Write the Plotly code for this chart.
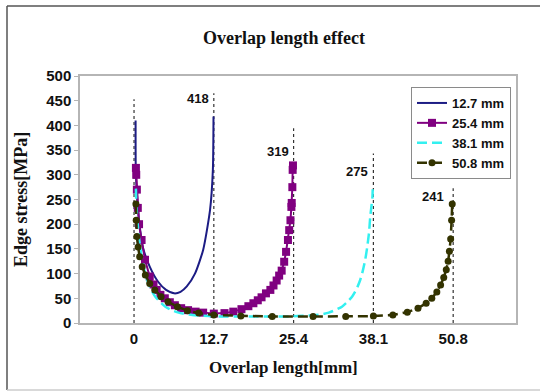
import plotly.graph_objects as go

# ---------------- data ----------------
x_127 = [0.25, 0.28, 0.45, 0.8, 1.4, 2.5, 3.8, 5.1, 6.4, 7.4, 8.4, 9.7, 11.0, 12.1, 12.55, 12.65]
y_127 = [410, 310, 263, 208, 154, 114, 84, 67, 60, 63, 74, 100, 148, 229, 310, 418]

x_254 = [0.3, 0.35, 0.45, 0.6, 0.8, 1.2, 1.75, 2.5, 3.1, 3.6, 4.2, 4.9, 5.7, 6.5, 7.5, 8.6,
         9.8, 11.0, 12.7, 14.4, 15.8, 17.1, 18.2, 19.0, 19.7, 20.3, 21.0, 21.7, 22.2, 22.7,
         23.1, 23.5, 23.9, 24.2, 24.5, 24.7, 24.9, 25.05, 25.1, 25.2, 25.25, 25.3]
y_254 = [314, 300, 270, 233, 200, 168, 128, 94, 78, 67, 57, 50, 42, 36, 30, 26,
         23, 21, 19, 20, 23, 28, 34, 40, 46, 52, 60, 67, 76, 86,
         96, 106, 124, 144, 168, 188, 208, 235, 243, 275, 310, 319]

x_381 = [0.3, 0.35, 0.5, 0.7, 1.0, 1.3, 1.7, 2.1, 2.7, 3.4, 4.2, 5.0, 6.0, 7.1, 8.2, 9.3,
         11.0, 13.0, 15.0, 17.0, 19.0, 21.0, 23.0, 25.0, 27.0, 28.8, 30.0, 31.0, 32.0, 33.1,
         33.9, 34.7, 35.4, 36.0, 36.4, 36.8, 37.1, 37.4, 37.6, 37.75, 37.95, 38.0]
y_381 = [272, 245, 215, 182, 152, 128, 105, 87, 68, 53, 42, 33, 26, 21, 18, 16,
         14.5, 13.5, 13, 13, 13, 13, 13, 13.5, 14.5, 16, 18, 21, 26, 33,
         42, 53, 68, 87, 105, 128, 152, 182, 215, 232, 255, 275]

x_508 = [0.3, 0.35, 0.45, 0.65, 0.9, 1.3, 1.8, 2.5, 3.3, 4.3, 5.4, 6.9, 8.5, 10.3, 12.7,
         17.0, 22.0, 28.5, 33.7, 38.1, 41.2, 43.5, 45.2, 46.5, 47.4, 48.2, 48.8, 49.3,
         49.7, 50.0, 50.2, 50.4, 50.55, 50.65]
y_508 = [241, 208, 175, 154, 134, 114, 97, 80, 67, 53, 43, 33, 25, 20, 16,
         14, 13, 13, 13, 14, 16, 22, 30, 40, 50, 63, 77, 92,
         108, 125, 145, 170, 208, 241]

series_names = ["12.7 mm", "25.4 mm", "38.1 mm", "50.8 mm"]

edge_x = [0, 12.7, 25.4, 38.1, 50.8]
edge_top = [453, 465, 394, 343, 273]

peak_x = [12.7, 25.4, 38.1, 50.8]
peak_val = [418, 319, 275, 241]
peak_label_y = [455, 347, 307, 256]

x_ticks = [0, 12.7, 25.4, 38.1, 50.8]
x_tick_text = ["0", "12.7", "25.4", "38.1", "50.8"]

# ---------------- styles ----------------
SANS = "Liberation Sans, Arial, sans-serif"
SERIF = "Liberation Serif, Times New Roman, serif"
peak_shift = [-3, -3, -3, -7]

fig = go.Figure()

# dotted edge lines
for ex, et in zip(edge_x, edge_top):
    fig.add_trace(go.Scatter(x=[ex, ex], y=[0, et], mode="lines",
                             line=dict(color="#333333", width=1.2, dash="dot"),
                             showlegend=False, hoverinfo="skip"))

fig.add_trace(go.Scatter(x=x_127, y=y_127, name=series_names[0], mode="lines",
                         line=dict(color="#1c1c84", width=2, shape="spline", smoothing=0.6),
                         legendgroup="a"))
fig.add_trace(go.Scatter(x=x_254, y=y_254, name=series_names[1], mode="lines+markers",
                         line=dict(color="#800080", width=2),
                         marker=dict(symbol="square", size=8, color="#800080"), legendgroup="b"))
fig.add_trace(go.Scatter(x=x_381, y=y_381, name=series_names[2], mode="lines",
                         line=dict(color="#33f0f0", width=2.5, dash="10px,5px",
                                   shape="spline", smoothing=0.5),
                         legendgroup="c"))
fig.add_trace(go.Scatter(x=x_508, y=y_508, name=series_names[3], mode="lines+markers",
                         line=dict(color="#333300", width=2.5, dash="10px,5px"),
                         marker=dict(symbol="circle", size=7, color="#333300"), legendgroup="d"))

annotations = []
for px, pv, py, sh in zip(peak_x, peak_val, peak_label_y, peak_shift):
    annotations.append(dict(x=px, y=py, xref="x", yref="y", text=str(pv), showarrow=False,
                            xanchor="right", yanchor="middle", xshift=sh,
                            font=dict(family=SANS, size=13, color="#111111", weight="bold")))

annotations.append(dict(text="Overlap length[mm]", xref="paper", yref="paper",
                        x=(283 - 80) / 436, y=(323 - 367) / 247, showarrow=False,
                        xanchor="center", yanchor="middle",
                        font=dict(family=SERIF, size=17, color="#111111", weight="bold")))
annotations.append(dict(text="Edge stress[MPa]", xref="paper", yref="paper",
                        x=(21 - 80) / 436, y=(323 - 200) / 247, showarrow=False, textangle=-90,
                        xanchor="center", yanchor="middle",
                        font=dict(family=SERIF, size=18, color="#111111", weight="bold")))

shapes = [
    dict(type="line", xref="paper", yref="paper", x0=(7 - 80) / 436, x1=(545 - 80) / 436,
         y0=(323 - 6) / 247, y1=(323 - 6) / 247, line=dict(color="#555555", width=1.5)),
    dict(type="line", xref="paper", yref="paper", x0=(7 - 80) / 436, x1=(7 - 80) / 436,
         y0=(323 - 6) / 247, y1=(323 - 390) / 247, line=dict(color="#555555", width=1.5)),
    dict(type="line", xref="paper", yref="paper", x0=(7 - 80) / 436, x1=(545 - 80) / 436,
         y0=(323 - 390) / 247, y1=(323 - 390) / 247, line=dict(color="#cccccc", width=1.5)),
]

fig.update_layout(
    width=540, height=392,
    margin=dict(l=80, r=24, t=76, b=69),
    paper_bgcolor="white", plot_bgcolor="white",
    title=dict(text="Overlap length effect", x=284 / 540, y=1 - 38 / 392,
               xanchor="center", yanchor="middle", xref="container", yref="container",
               font=dict(family=SERIF, size=18, color="#111111", weight="bold")),
    xaxis=dict(range=[-8.6, 60.8], tickvals=x_ticks, ticktext=x_tick_text,
               showgrid=False, zeroline=False, showline=True, mirror=True,
               linecolor="#b5b5b5", linewidth=1.5, ticks="", ticklabelstandoff=1,
               tickfont=dict(family=SANS, size=15, color="#111111", weight="bold")),
    yaxis=dict(range=[0, 500], dtick=50, showgrid=False, zeroline=False, showline=True,
               mirror=True, linecolor="#b5b5b5", linewidth=1.5, ticks="outside",
               ticklen=4, tickcolor="#b5b5b5",
               tickfont=dict(family=SANS, size=15, color="#111111", weight="bold")),
    legend=dict(x=(411 - 80) / 436, y=(323 - 87) / 247, xanchor="left", yanchor="top",
                bgcolor="white", bordercolor="#8a8a8a", borderwidth=1,
                font=dict(family=SANS, size=13, color="#111111", weight="bold"),
                itemwidth=30, tracegroupgap=0),
    annotations=annotations,
    shapes=shapes,
    showlegend=True,
)

fig.write_html("out.html")
